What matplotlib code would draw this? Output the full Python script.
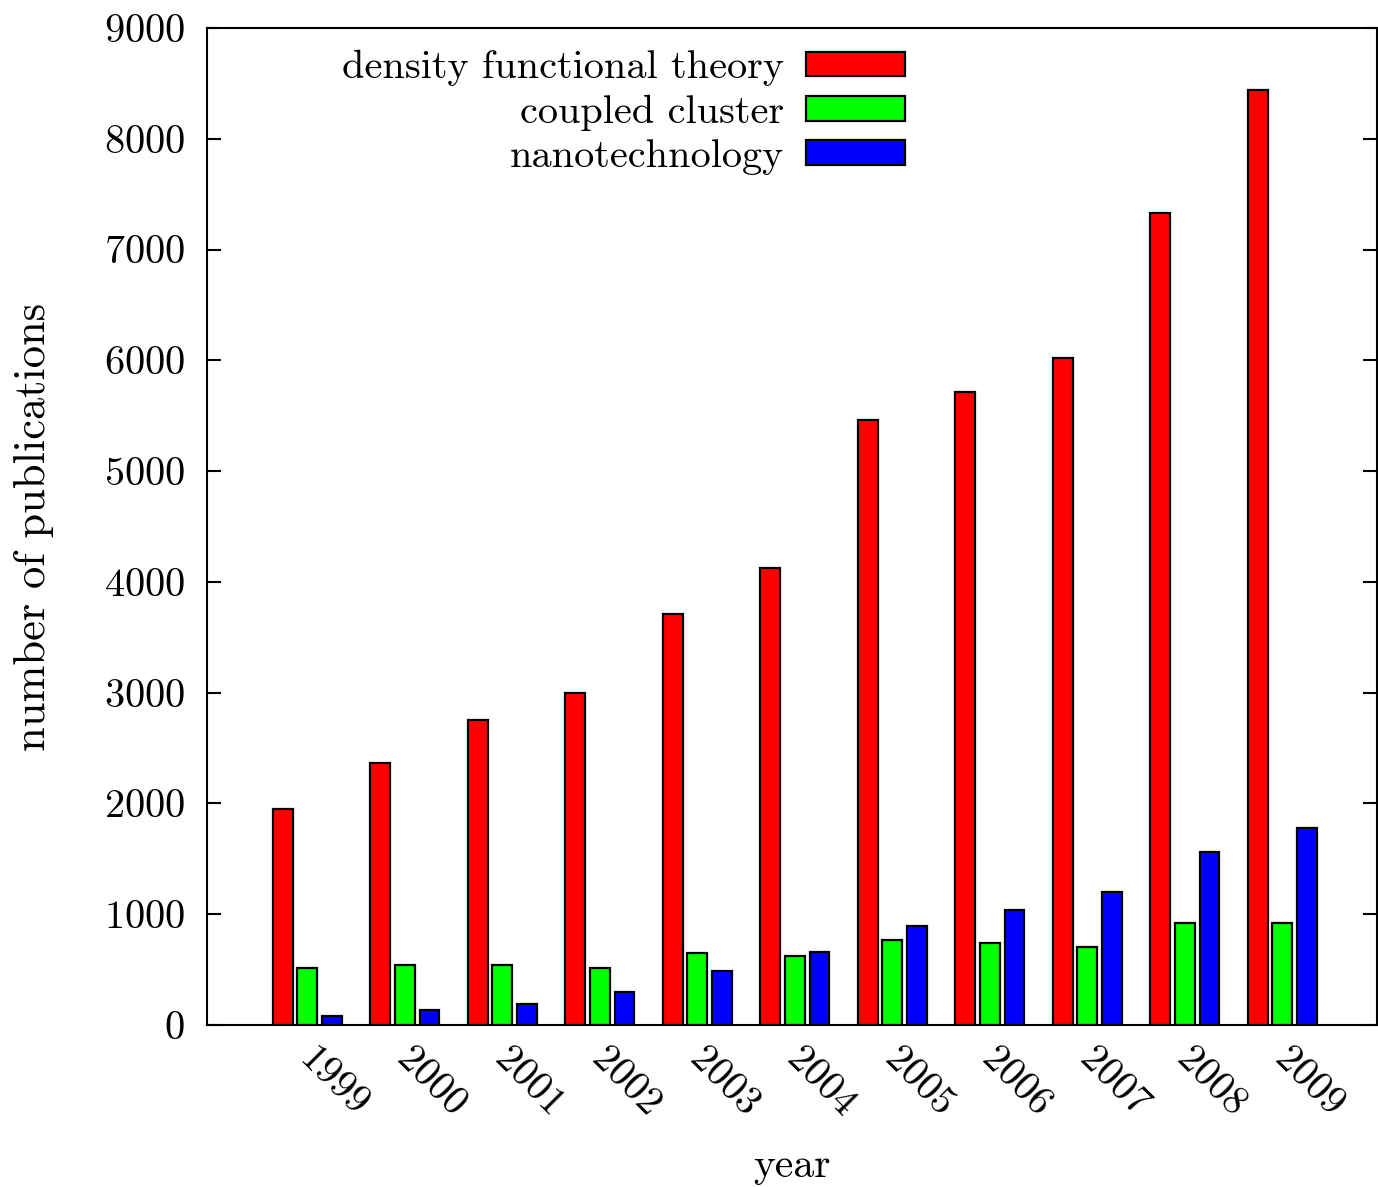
import matplotlib
matplotlib.use("Agg")
import matplotlib.pyplot as plt
import matplotlib.transforms as mtransforms
import numpy as np

plt.rcParams['font.family'] = ['cmr10', 'DejaVu Serif']
plt.rcParams['axes.formatter.use_mathtext'] = True

years = ["1999", "2000", "2001", "2002", "2003", "2004",
         "2005", "2006", "2007", "2008", "2009"]
dft = [1950, 2365, 2753, 3000, 3709, 4125, 5460, 5713, 6020, 7330, 8440]
coupled_cluster = [515, 541, 541, 515, 652, 623, 767, 740, 707, 924, 924]
nanotech = [77, 135, 190, 298, 487, 659, 893, 1038, 1200, 1561, 1781]

series = [
    ("density functional theory", dft, "#ff0000"),
    ("coupled cluster", coupled_cluster, "#00ff00"),
    ("nanotechnology", nanotech, "#0000ff"),
]

fig = plt.figure(figsize=(13.78, 11.87), dpi=100)
ax = fig.add_axes([207 / 1378, 1 - 1025 / 1187, 1170 / 1378, 997 / 1187])

x = np.arange(len(years))
width = 0.205
step = 0.252
for k, (label, vals, color) in enumerate(series):
    ax.bar(x + (k - 1) * step, vals, width=width, color=color,
           edgecolor="black", linewidth=1.6, label=label, zorder=2)

ax.set_xlim(-1.03, 10.97)
ax.set_ylim(0, 9000)
ax.set_yticks(np.arange(0, 9001, 1000))
ax.set_xticks(x)
ax.set_xticklabels([])

# rotated year labels hanging below each group
label_offset = mtransforms.ScaledTranslation(10 / 100, -16 / 100,
                                             fig.dpi_scale_trans)
for xi, yr in zip(x, years):
    ax.text(xi, 0, yr, transform=ax.get_xaxis_transform() + label_offset,
            rotation=-45, ha="left", va="top", rotation_mode="anchor",
            fontsize=29)

ax.tick_params(axis="y", direction="in", length=10, width=1.5,
               right=True, labelsize=29, pad=16)
ax.tick_params(axis="x", length=0, pad=11)
for sp in ax.spines.values():
    sp.set_linewidth(1.5)

ax.set_xlabel("year", fontsize=30)
ax.xaxis.set_label_coords(0.5, -0.123)
ax.set_ylabel("number of publications", fontsize=32, labelpad=36)

ax.legend(loc="upper right", bbox_to_anchor=(905 / 1378, 1 - 50 / 1187),
          bbox_transform=fig.transFigure, frameon=False, markerfirst=False,
          fontsize=29, handlelength=2.45, handleheight=0.55,
          handletextpad=0.55, labelspacing=0.2, borderpad=0,
          borderaxespad=0)

fig.savefig("out.png", dpi=100)
